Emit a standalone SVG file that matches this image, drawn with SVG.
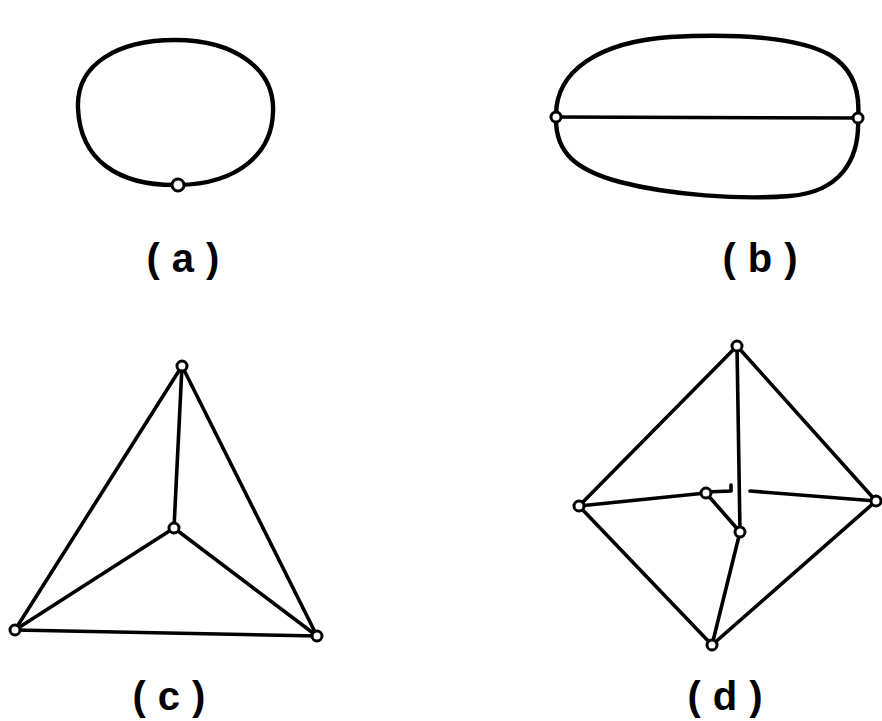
<svg xmlns="http://www.w3.org/2000/svg" width="882" height="721" viewBox="0 0 882 721">
<style>
.e{fill:none;stroke:#000;stroke-width:3.6;stroke-linecap:round;stroke-linejoin:round}
.thick{stroke-width:4.4}
.n{fill:#fff;stroke:#000;stroke-width:3}
.lbl{font-family:"Liberation Sans",Arial,sans-serif;font-size:40px;font-weight:bold;fill:#000;text-anchor:middle;letter-spacing:12px}
</style>
<rect width="882" height="721" fill="#fff"/>
<g id="connectors">
  <!-- (a) loop -->
  <path class="e thick" d="M178,185 C118,186 80,160 78,108 C76,64 118,40 175,40 C236,40 275,70 273,112 C272,152 240,184 178,185 Z"/>
  <!-- (b) -->
  <path class="e thick" d="M556,117 C555,70 600,42 670,37 C740,33 800,38 830,55 C855,70 860,95 858,118"/>
  <path class="e thick" d="M556,117 C555,152 575,170 620,182 C670,195 740,200 790,196 C840,192 860,160 858,118"/>
  <line class="e" x1="556" y1="117" x2="858" y2="118"/>
  <!-- (c) -->
  <line class="e" x1="182" y1="366" x2="174" y2="528"/>
  <line class="e" x1="182" y1="366" x2="15" y2="630"/>
  <line class="e" x1="182" y1="366" x2="317" y2="636"/>
  <line class="e" x1="174" y1="528" x2="15" y2="630"/>
  <line class="e" x1="174" y1="528" x2="317" y2="636"/>
  <line class="e" x1="15" y1="630" x2="317" y2="636"/>
  <!-- (d) -->
  <line class="e" x1="737" y1="346" x2="579" y2="506"/>
  <line class="e" x1="737" y1="346" x2="876" y2="501"/>
  <line class="e" x1="579" y1="506" x2="712" y2="645"/>
  <line class="e" x1="876" y1="501" x2="712" y2="645"/>
  <line class="e" x1="737" y1="346" x2="740" y2="532"/>
  <line class="e" x1="579" y1="506" x2="706" y2="493"/>
  <line class="e" x1="706" y1="493" x2="740" y2="532"/>
  <line class="e" x1="740" y1="532" x2="712" y2="645"/>
  <polyline class="e" points="706,492 731,491 731,485"/>
  <line class="e" x1="750" y1="491" x2="876" y2="501"/>
</g>
<g id="node-a1"><circle class="n" cx="178" cy="185" r="6"/></g>
<g id="node-b1"><circle class="n" cx="556" cy="117" r="5"/></g>
<g id="node-b2"><circle class="n" cx="858" cy="118" r="5"/></g>
<g id="node-c1"><circle class="n" cx="182" cy="366" r="5"/></g>
<g id="node-c2"><circle class="n" cx="174" cy="528" r="5"/></g>
<g id="node-c3"><circle class="n" cx="15" cy="630" r="5"/></g>
<g id="node-c4"><circle class="n" cx="317" cy="636" r="5"/></g>
<g id="node-d1"><circle class="n" cx="737" cy="346" r="5"/></g>
<g id="node-d2"><circle class="n" cx="579" cy="506" r="5"/></g>
<g id="node-d3"><circle class="n" cx="876" cy="501" r="5"/></g>
<g id="node-d4"><circle class="n" cx="712" cy="645" r="5"/></g>
<g id="node-d5"><circle class="n" cx="706" cy="493" r="5"/></g>
<g id="node-d6"><circle class="n" cx="740" cy="532" r="5"/></g>
<g id="labels">
  <text class="lbl" x="189" y="272">(a)</text>
  <text class="lbl" x="766" y="272">(b)</text>
  <text class="lbl" x="175" y="710">(c)</text>
  <text class="lbl" x="731" y="710">(d)</text>
</g>
</svg>
